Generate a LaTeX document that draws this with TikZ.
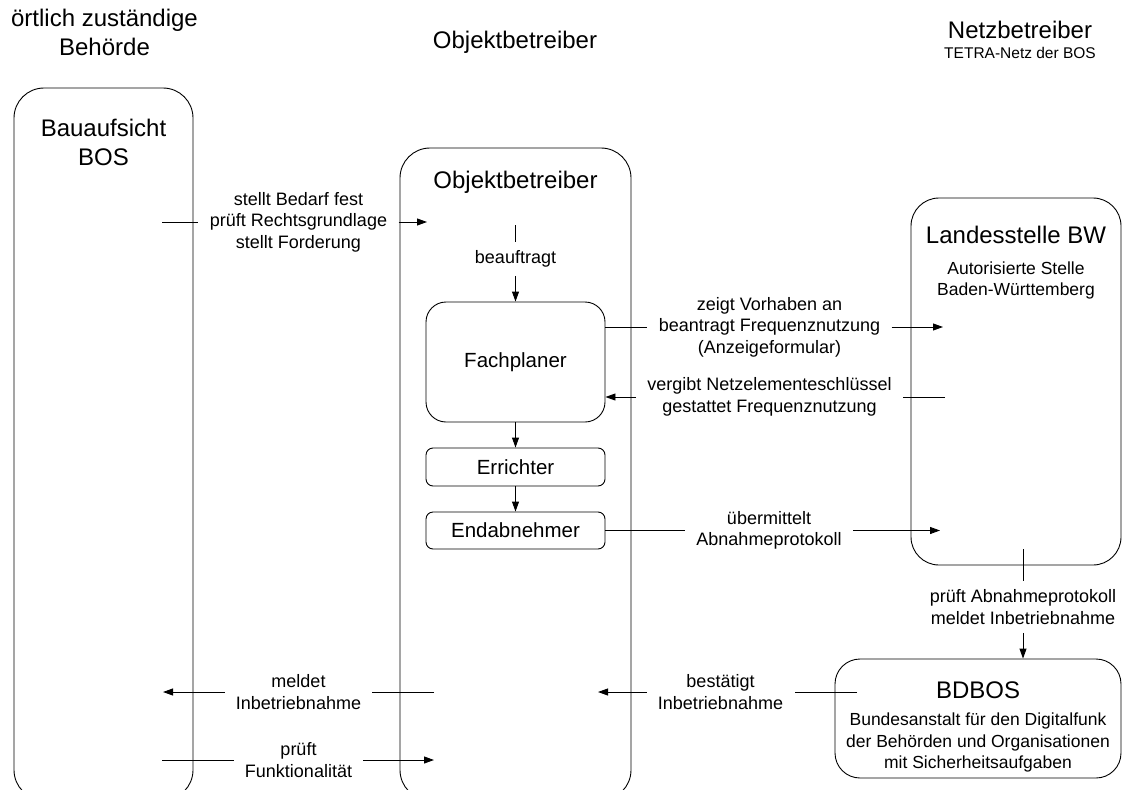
\documentclass[tikz,border=0pt]{standalone}
\usepackage{fontspec}
\setmainfont{Liberation Sans}
\usetikzlibrary{arrows.meta}

\begin{document}
\begin{tikzpicture}[x=1pt, y=-1pt, line width=0.9pt]

% styles der Texte
\tikzstyle{textTitle}=[align=center, inner sep=0pt, font={\fontsize{24}{29}\selectfont}]
\tikzstyle{textSub}=[align=center, inner sep=0pt, font={\fontsize{17.5}{21.5}\selectfont}]
\tikzstyle{textSmall}=[align=center, inner sep=0pt, font={\fontsize{15.5}{18}\selectfont}]
\tikzstyle{textLine}=[align=center, inner xsep=11pt, inner ysep=8pt, font={\fontsize{18}{21.5}\selectfont}]

% styles der Kaesten
\tikzstyle{boxTier}=[draw, rounded corners=30pt, inner sep=0pt]
\tikzstyle{boxTask}=[draw, rounded corners=7pt, inner sep=0pt, minimum width=179pt, font={\fontsize{20.5}{24}\selectfont}]

\tikzstyle{vector}=[-{Triangle[length=10pt,width=7pt]}]

\useasboundingbox (0,0) rectangle (1123,789);
\clip (0,0) rectangle (1123,789);

% Kopfzeile
\node[textTitle] (hdrBehoerde) at (104.5,32.5) {örtlich zuständige\\Behörde};
\node[textTitle] (hdrObjekt) at (515,42) {Objektbetreiber};
\node[textTitle] (hdrNetz) at (1020,30) {Netzbetreiber};
\node[textSmall] (hdrTetra) at (1020,53) {TETRA-Netz der BOS};

% grosse Kaesten
\node[boxTier, minimum width=179pt, minimum height=712pt] (bauaufsicht) at (103.5,444) {};
\node[textTitle] (bauaufsichtTitle) at (103.5,142.5) {Bauaufsicht\\BOS};

\node[boxTier, minimum width=231pt, minimum height=652pt] (objekt) at (515.5,474) {};
\node[textTitle] (objektTitle) at (515.5,182) {Objektbetreiber};

\node[boxTier, rounded corners=28pt, minimum width=210pt, minimum height=367pt] (landes) at (1016,381.5) {};
\node[textTitle] (landesTitle) at (1016,235) {Landesstelle BW};
\node[textSub] (landesSub) at (1016,280.5) {Autorisierte Stelle\\Baden-Württemberg};

\node[boxTier, rounded corners=25pt, minimum width=286pt, minimum height=119pt] (bdbos) at (978,718.5) {};
\node[textTitle] (bdbosTitle) at (978,690) {BDBOS};
\node[textSub] (bdbosSub) at (978,742.5) {Bundesanstalt für den Digitalfunk\\der Behörden und Organisationen\\mit Sicherheitsaufgaben};

% Kaesten im Objektbetreiber
\node[boxTask, rounded corners=20pt, minimum height=120pt] (fachplaner) at (515.5,362) {Fachplaner};
\node[boxTask, minimum height=38pt] (errichter) at (515.5,467) {Errichter};
\node[boxTask, minimum height=37pt] (endabnehmer) at (515.5,530.5) {Endabnehmer};

% freie Enden
\coordinate (stelltA) at (162,222);
\coordinate (stelltB) at (427,222);
\coordinate (beaufA) at (515.5,225);
\coordinate (zeigtB) at (943,327);
\coordinate (vergibtA) at (945,397);
\coordinate (uebermB) at (940,530.5);
\coordinate (pruefA) at (1023,549);
\coordinate (bestA) at (857,692);
\coordinate (bestB) at (598,692);
\coordinate (meldA) at (434,692);
\coordinate (meldB) at (163,692);
\coordinate (funkA) at (162,760);
\coordinate (funkB) at (434,760);

% Beschriftungen
\node[textLine] (stelltL) at (298.5,222) {stellt Bedarf fest\\prüft Rechtsgrundlage\\stellt Forderung};
\node[textLine] (beaufL) at (515.5,259) {beauftragt};
\node[textLine] (zeigtL) at (769.5,327) {zeigt Vorhaben an\\beantragt Frequenznutzung\\(Anzeigeformular)};
\node[textLine] (vergibtL) at (769.5,397) {vergibt Netzelementeschlüssel\\gestattet Frequenznutzung};
\node[textLine] (uebermL) at (769,530.5) {übermittelt\\Abnahmeprotokoll};
\node[textLine] (pruefL) at (1023,607) {prüft Abnahmeprotokoll\\meldet Inbetriebnahme};
\node[textLine] (bestL) at (720.5,692) {bestätigt\\Inbetriebnahme};
\node[textLine] (meldL) at (298.5,692) {meldet\\Inbetriebnahme};
\node[textLine] (funkL) at (298.5,760) {prüft\\Funktionalität};

% Verbindungen
\draw (stelltA) -- (stelltL);
\draw[vector] (stelltL) -- (stelltB);

\draw (beaufA) -- (beaufL);
\draw[vector] (beaufL) -- (fachplaner);
\draw[vector] (fachplaner) -- (errichter);
\draw[vector] (errichter) -- (endabnehmer);

\draw (fachplaner.east |- zeigtL) -- (zeigtL);
\draw[vector] (zeigtL) -- (zeigtB);
\draw (vergibtA) -- (vergibtL);
\draw[vector] (vergibtL) -- (fachplaner.east |- vergibtL);

\draw (endabnehmer) -- (uebermL);
\draw[vector] (uebermL) -- (uebermB);

\draw (pruefA) -- (pruefL);
\draw[vector] (pruefL) -- (pruefL |- bdbos.north);

\draw (bestA) -- (bestL);
\draw[vector] (bestL) -- (bestB);
\draw (meldA) -- (meldL);
\draw[vector] (meldL) -- (meldB);
\draw (funkA) -- (funkL);
\draw[vector] (funkL) -- (funkB);

\end{tikzpicture}
\end{document}
